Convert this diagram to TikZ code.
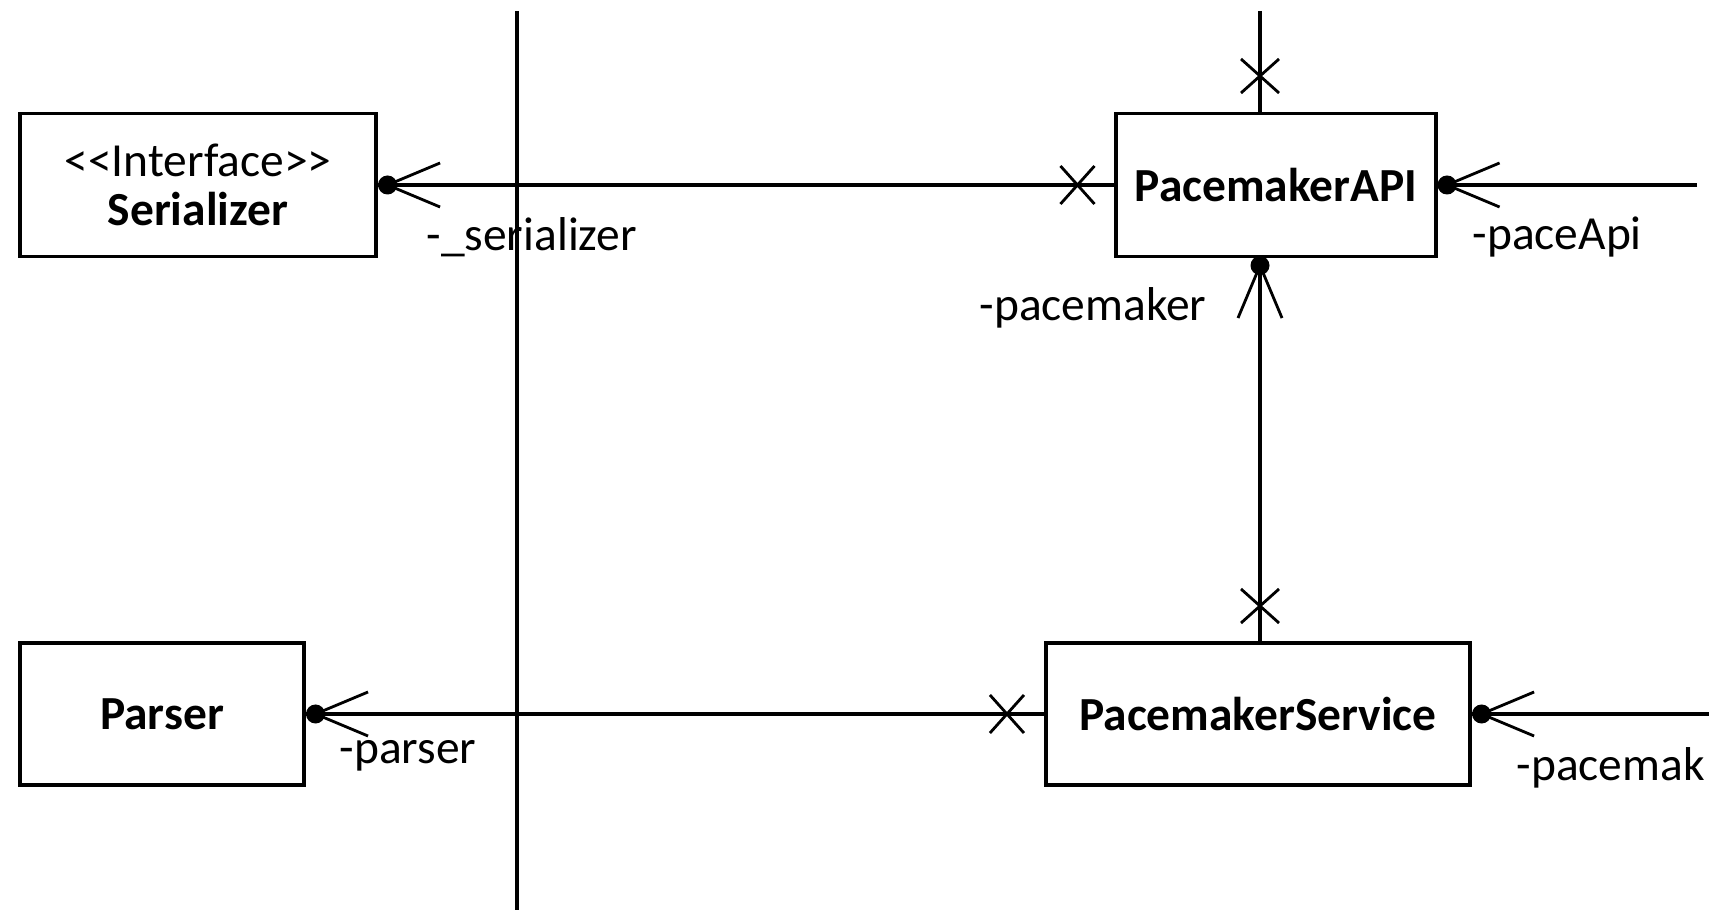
\documentclass[tikz,border=0pt]{standalone}
\usepackage{fontspec}
\setmainfont{Carlito}
\usepackage{tikz}
\usetikzlibrary{calc}

\begin{document}
\begin{tikzpicture}[x=0.01cm,y=-0.01cm,font=\fontsize{13.5}{16}\selectfont,line width=0.9pt]
\tikzstyle{class box}=[draw,rectangle,inner sep=0pt,line width=1.1pt]
\tikzstyle{role}=[inner sep=0pt]
\tikzset{
  xmark/.pic={\draw[line width=0.8pt] (-0.17cm,-0.19cm)--(0.17cm,0.19cm) (-0.17cm,0.19cm)--(0.17cm,-0.19cm);},
  navend/.pic={\fill (0.095cm,0) circle (0.095cm);
               \draw[line width=0.8pt] (0.62cm,0.22cm)--(0.095cm,0)--(0.62cm,-0.22cm);}
}
\useasboundingbox (0,0) rectangle (1709,910);
\clip (0,0) rectangle (1709,910);

% classes
\node(ser)[class box,minimum width=3.56cm,minimum height=1.43cm,align=center] at (198,185)
    {<{}<Interface>{}>\\[-2pt] \textbf{Serializer}};
\node(api)[class box,minimum width=3.19cm,minimum height=1.43cm] at (1276,185) {\textbf{PacemakerAPI}};
\node(parser)[class box,minimum width=2.84cm,minimum height=1.42cm] at (162,714) {\textbf{Parser}};
\node(svc)[class box,minimum width=4.24cm,minimum height=1.42cm] at (1258,714) {\textbf{PacemakerService}};

% loose ends
\coordinate(apiR) at (1697,185);
\coordinate(svcR) at (1709,714);
\coordinate(apiT) at (1260,11);
\coordinate(sepT) at (517,11);
\coordinate(sepB) at (517,910);

% boundary line
\draw (sepT) -- (sepB);

% associations
\draw (api.west) -- (ser.east);
\path (ser.east) pic {navend};
\path ($(api.west)+(-37,0)$) pic {xmark};

\draw (svc.west |- parser.east) -- (parser.east);
\path (parser.east) pic {navend};
\path ($(svc.west)+(-37,0)$) pic {xmark};

\draw (apiR) -- (api.east);
\path (api.east) pic {navend};

\draw (svcR) -- (svc.east);
\path (svc.east) pic {navend};

\draw (apiT) -- (apiT |- api.north);
\path (1260,76) pic[rotate=90] {xmark};

\coordinate(apiB) at (1260,256);
\draw (apiB) -- (apiB |- svc.north);
\path (apiB) pic[rotate=-90] {navend};
\path (1260,606) pic[rotate=90] {xmark};

% role names
\node[role,anchor=west] at (425,237) {-\_serializer};
\node[role,anchor=west] at (1471,237) {-paceApi};
\node[role,anchor=east] at (1208,308) {-pacemaker};
\node[role,anchor=west] at (338,756) {-parser};
\node[role,anchor=west] at (1515,768) {-pacemak};
\end{tikzpicture}
\end{document}
